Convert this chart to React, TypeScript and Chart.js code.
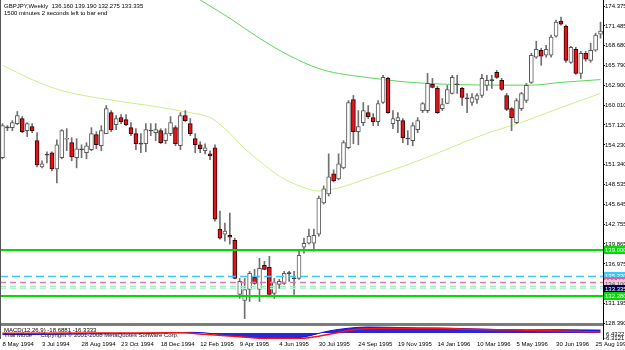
import React, { useEffect, useRef } from 'react';
import { Chart, registerables } from 'chart.js';

Chart.register(...registerables);

// ---------- data ----------
const START_YEAR = 1994;
const START_MONTH = 4; // May (0-based)
const START_DAY = 8;
const MONTHS = ['Jan', 'Feb', 'Mar', 'Apr', 'May', 'Jun', 'Jul', 'Aug', 'Sep', 'Oct', 'Nov', 'Dec'];

const OPEN = [152.36, 156.75, 156.73, 157.32, 158.05, 156.30, 156.88, 154.84, 151.05, 152.85, 153.09, 150.76, 152.36, 155.05, 154.55, 152.36, 153.50, 153.09, 153.53, 155.71, 154.11, 155.86, 158.92, 157.17, 158.19, 157.90, 156.73, 155.86, 154.45, 154.40, 156.25, 156.00, 156.30, 154.84, 155.86, 156.73, 154.11, 158.48, 157.32, 155.13, 154.25, 153.38, 152.94, 153.82, 142.01, 141.28, 141.13, 140.40, 132.53, 131.66, 133.26, 135.01, 133.26, 136.76, 136.47, 132.67, 133.99, 134.14, 135.55, 134.90, 134.86, 139.38, 139.97, 139.97, 141.28, 145.80, 147.11, 150.03, 149.30, 150.90, 153.82, 160.82, 156.15, 157.46, 158.92, 158.19, 157.61, 160.38, 163.88, 157.32, 157.75, 157.75, 155.18, 154.84, 156.44, 159.21, 159.21, 163.00, 162.42, 159.50, 160.23, 161.69, 163.05, 162.42, 161.00, 160.38, 160.82, 161.40, 162.86, 163.62, 164.75, 163.59, 161.40, 159.50, 157.46, 159.50, 160.67, 163.29, 166.94, 167.96, 167.23, 167.23, 170.00, 172.19, 171.46, 166.21, 168.11, 164.61, 167.52, 166.50, 167.96, 170.29];
const HIGH = [157.32, 157.02, 157.75, 159.07, 158.34, 157.46, 157.32, 156.00, 151.92, 153.23, 153.23, 154.98, 156.44, 156.59, 155.28, 155.13, 154.25, 154.55, 156.73, 156.15, 157.02, 159.94, 159.21, 158.48, 158.63, 158.63, 157.46, 156.59, 155.86, 157.32, 157.32, 157.32, 156.59, 156.59, 158.34, 157.02, 158.92, 159.21, 158.05, 155.86, 154.69, 154.40, 153.38, 154.25, 144.63, 142.88, 144.34, 140.70, 134.86, 134.86, 135.88, 136.18, 137.78, 137.34, 138.07, 134.86, 134.72, 135.88, 135.88, 135.88, 138.80, 140.70, 142.01, 142.01, 146.82, 148.28, 152.94, 150.61, 152.94, 154.84, 160.67, 161.40, 159.21, 160.38, 159.94, 158.78, 160.67, 164.32, 164.02, 159.21, 158.92, 158.05, 156.30, 157.46, 158.19, 160.38, 164.61, 163.88, 162.71, 160.96, 162.86, 164.32, 164.32, 162.57, 161.69, 161.69, 161.69, 164.46, 164.32, 164.32, 165.04, 163.88, 161.69, 159.65, 160.96, 161.84, 163.15, 167.52, 169.27, 168.25, 168.69, 170.15, 172.33, 172.77, 171.61, 168.54, 168.40, 167.81, 167.81, 168.98, 170.44, 172.04];
const LOW = [152.21, 156.30, 156.30, 157.17, 156.00, 155.42, 156.00, 151.05, 150.90, 151.63, 150.46, 148.72, 152.21, 153.38, 151.92, 150.90, 152.36, 152.21, 153.38, 153.67, 153.38, 155.86, 156.15, 156.44, 157.32, 157.02, 155.57, 153.53, 153.09, 153.23, 155.57, 154.84, 154.40, 154.40, 155.57, 154.11, 153.53, 157.61, 155.57, 153.09, 153.09, 152.94, 152.07, 143.17, 140.55, 140.26, 139.82, 134.80, 131.95, 129.03, 131.51, 133.99, 131.51, 136.10, 132.24, 131.95, 133.41, 133.99, 134.43, 132.53, 134.72, 138.51, 139.82, 138.80, 140.99, 145.65, 146.82, 148.86, 149.15, 150.76, 153.67, 154.40, 154.25, 157.02, 158.05, 157.02, 157.02, 160.23, 158.78, 156.59, 156.00, 154.55, 154.25, 154.11, 156.00, 158.92, 158.92, 162.50, 158.78, 159.21, 160.20, 161.60, 161.69, 159.94, 158.92, 159.94, 160.23, 161.11, 162.13, 162.42, 163.88, 162.13, 159.21, 156.30, 157.32, 159.21, 160.38, 163.15, 166.79, 165.77, 166.94, 166.94, 169.86, 171.61, 166.21, 166.06, 164.46, 163.88, 166.36, 166.21, 167.81, 169.71];
const CLOSE = [157.02, 156.70, 157.46, 158.48, 156.15, 157.32, 156.30, 151.34, 151.48, 152.75, 150.76, 154.25, 156.30, 155.20, 152.50, 153.67, 153.55, 154.11, 155.86, 154.25, 156.30, 159.50, 156.44, 158.05, 157.61, 157.17, 155.86, 154.40, 154.35, 156.44, 156.35, 156.44, 154.55, 155.86, 157.46, 154.40, 158.48, 157.75, 155.86, 154.25, 153.67, 153.82, 152.65, 143.47, 140.70, 141.72, 140.84, 134.86, 134.43, 133.26, 135.59, 134.14, 136.32, 136.18, 132.53, 134.28, 134.43, 135.59, 135.62, 134.82, 138.22, 139.97, 140.99, 141.13, 146.53, 147.84, 149.59, 149.01, 151.48, 154.55, 160.38, 156.15, 156.88, 159.21, 158.34, 157.61, 160.23, 164.02, 158.92, 158.05, 158.19, 155.28, 155.08, 157.02, 157.75, 160.23, 163.15, 162.57, 158.92, 160.09, 162.27, 164.02, 162.95, 161.11, 160.92, 161.11, 161.40, 163.88, 163.59, 163.55, 164.02, 162.27, 159.36, 158.19, 160.67, 161.69, 162.86, 167.23, 168.11, 167.09, 168.11, 169.86, 172.04, 171.75, 166.50, 168.40, 164.61, 167.52, 166.65, 167.96, 170.15, 170.73];

// moving averages (sampled at bar indices)
const FAST_MA_BARS = [0, 6, 12, 20, 30, 38, 42, 45, 49, 52, 56, 60, 64, 68, 74, 84, 98, 105, 113, 121];
const FAST_MA_VALUES = [165.8, 163.7, 162.1, 160.96, 159.9, 158.9, 158.2, 156.6, 153.7, 151.9, 149.7, 148.3, 147.55, 148.0, 149.4, 151.9, 155.9, 157.5, 159.65, 161.7];
const SLOW_MA_BARS = [34, 40, 46, 52, 58, 64, 68, 74, 81, 91, 101, 107, 113, 121];
const SLOW_MA_VALUES = [177.9, 175.25, 172.6, 169.7, 167.2, 165.3, 164.6, 164.0, 163.4, 163.0, 162.9, 162.9, 163.3, 163.7];

// MACD pane
const MACD_BARS = [0, 10, 20, 30, 38, 41, 44, 48, 52, 56, 59, 62, 64, 66, 70, 74, 78, 84, 90, 94, 100, 106, 112, 117, 121];
const MACD_VALUES = [-1.8, -1.5, -1.0, -0.6, 0.6, 0.0, -1.8, -3.8, -5.4, -6.2, -5.8, -3.2, -0.5, 2.0, 5.0, 6.3, 6.0, 5.3, 5.0, 4.5, 3.6, 3.2, 3.4, 3.2, 3.0];
const SIGNAL_BARS = [0, 20, 36, 41, 48, 54, 60, 64, 68, 72, 80, 88, 94, 104, 113, 121];
const SIGNAL_VALUES = [-0.3, -0.2, 0.2, -1.5, -4.0, -6.0, -6.0, -3.5, 0.5, 4.0, 5.0, 5.0, 4.0, 3.0, 2.0, 1.0];

// price axis ticks
const Y_TICKS = [174.375, 171.485, 168.68, 165.79, 162.9, 160.01, 157.12, 154.23, 151.34, 148.535, 145.645, 142.755, 139.865, 136.975, 131.195, 128.39];

// horizontal levels
const LEVEL_VALUES = [139.0, 135.22, 134.33, 133.75, 133.46, 132.28];
const LEVEL_COLORS = ['#00dc00', '#3cc8ff', '#e07aa0', '#9fe8c0', '#b8f0d0', '#00dc00'];
const LEVEL_DASHES = [[], [8, 4], [6, 4], [6, 4], [6, 4], []];
const LEVEL_WIDTHS = [2, 1.5, 1.5, 1.5, 1.5, 2];

// right-side price boxes
const BOX_VALUES = [139.0, 135.22, 134.53, 134.1, 133.335, 132.28];
const BOX_TEXTS = ['139.000', '135.220', '134.530', '134.100', '133.335', '132.280'];
const BOX_COLORS = ['#00dc00', '#3cc8ff', '#e0609a', '#f0c8d8', '#000050', '#00dc00'];

const HEADER_LINES = ['GBPJPY,Weekly  136.160 139.190 132.275 133.335', '1500 minutes 2 seconds left to bar end'];
const MACD_TEXTS = ['MACD(12,26,9) -18.6881 -16.3333', 'Trial Mode     Copyright \u00a9 2001-2008 MetaQuotes Software Corp.'];
const MACD_AXIS_LABELS = ['6.4322', '-6.3121'];

const CATEGORIES: string[] = OPEN.map((_, i) => {
  const d = new Date(Date.UTC(START_YEAR, START_MONTH, START_DAY + i * 7));
  return `${d.getUTCDate()} ${MONTHS[d.getUTCMonth()]} ${d.getUTCFullYear()}`;
});

const FONT = 'Liberation Sans';

const overlayPlugin = {
  id: 'mtOverlay',
  afterDatasetsDraw(chart: any) {
    const { ctx, chartArea, scales } = chart;
    const y = scales.y;
    const y2 = scales.y2;
    ctx.save();
    ctx.beginPath();
    ctx.rect(chartArea.left, y.top, chartArea.right - chartArea.left, y.bottom - y.top);
    ctx.clip();
    LEVEL_VALUES.forEach((v, i) => {
      const py = Math.round(y.getPixelForValue(v)) + (LEVEL_WIDTHS[i] === 2 ? 0 : 0.5);
      ctx.strokeStyle = LEVEL_COLORS[i];
      ctx.lineWidth = LEVEL_WIDTHS[i];
      ctx.setLineDash(LEVEL_DASHES[i]);
      ctx.beginPath();
      ctx.moveTo(chartArea.left, py);
      ctx.lineTo(chartArea.right, py);
      ctx.stroke();
    });
    ctx.restore();

    ctx.save();
    // separator between panes
    ctx.fillStyle = '#7c7c7c';
    ctx.fillRect(chartArea.left, y.bottom - 1, chartArea.right - chartArea.left, 3);
    // left frame
    ctx.fillStyle = '#555';
    ctx.fillRect(chartArea.left, chartArea.top, 1, chartArea.bottom - chartArea.top);
    // header texts
    ctx.fillStyle = '#000';
    ctx.font = `6px "${FONT}"`;
    ctx.textBaseline = 'middle';
    ctx.textAlign = 'left';
    ctx.fillText(HEADER_LINES[0], chartArea.left + 4, y.top + 6);
    ctx.fillText(HEADER_LINES[1], chartArea.left + 4, y.top + 13);
    // MACD texts
    ctx.fillText(MACD_TEXTS[0], chartArea.left + 4, y2.top + 6);
    ctx.fillStyle = '#222';
    ctx.fillText(MACD_TEXTS[1], chartArea.left + 4, y2.top + 11.5);
    ctx.restore();
  },
  afterDraw(chart: any) {
    const { ctx, chartArea, scales } = chart;
    const y = scales.y;
    const y2 = scales.y2;
    ctx.save();
    ctx.font = `6px "${FONT}"`;
    ctx.textBaseline = 'middle';
    ctx.textAlign = 'left';
    BOX_VALUES.forEach((v, i) => {
      const py = Math.round(y.getPixelForValue(v));
      ctx.fillStyle = BOX_COLORS[i];
      ctx.fillRect(chartArea.right + 1, py - 4, 30, 8);
      ctx.fillStyle = i === 3 ? '#555' : '#fff';
      ctx.fillText(BOX_TEXTS[i], chartArea.right + 2, py + 0.5);
    });
    ctx.fillStyle = '#000';
    ctx.fillText(MACD_AXIS_LABELS[0], chartArea.right + 3, y2.bottom - 5);
    ctx.fillText(MACD_AXIS_LABELS[1], chartArea.right + 1, y2.bottom - 1);
    ctx.restore();
  },
};

export default function App() {
  const ref = useRef<HTMLCanvasElement | null>(null);

  useEffect(() => {
    document.body.style.margin = '0';
    const canvas = ref.current;
    if (!canvas) return;

    const isDoji = OPEN.map((o, i) => Math.abs(o - CLOSE[i]) < 0.12);
    const bodyFill = OPEN.map((o, i) => (isDoji[i] ? '#404040' : CLOSE[i] >= o ? '#ffffff' : '#e0141c'));
    const bodyBorder = OPEN.map((o, i) => (isDoji[i] ? '#404040' : CLOSE[i] >= o ? '#5a5a5a' : '#3a0000'));

    const chart = new Chart(canvas, {
      type: 'bar',
      data: {
        labels: CATEGORIES,
        datasets: [
          {
            type: 'line',
            label: 'slow MA',
            data: SLOW_MA_BARS.map((k, i) => ({ x: CATEGORIES[k], y: SLOW_MA_VALUES[i] })),
            borderColor: '#5cd65c',
            borderWidth: 1,
            pointRadius: 0,
            cubicInterpolationMode: 'monotone',
            yAxisID: 'y',
            order: 3,
          } as any,
          {
            type: 'line',
            label: 'fast MA',
            data: FAST_MA_BARS.map((k, i) => ({ x: CATEGORIES[k], y: FAST_MA_VALUES[i] })),
            borderColor: '#cdee8a',
            borderWidth: 1,
            pointRadius: 0,
            cubicInterpolationMode: 'monotone',
            yAxisID: 'y',
            order: 3,
          } as any,
          {
            label: 'wicks',
            data: LOW.map((l, i) => [l, HIGH[i]]),
            backgroundColor: '#707070',
            barThickness: 1,
            grouped: false,
            yAxisID: 'y',
            order: 1,
          } as any,
          {
            label: 'bodies',
            data: OPEN.map((o, i) => [Math.min(o, CLOSE[i]), Math.max(o, CLOSE[i])]),
            backgroundColor: bodyFill,
            borderColor: bodyBorder,
            borderWidth: 1,
            borderSkipped: false,
            barThickness: 4,
            minBarLength: 1,
            grouped: false,
            yAxisID: 'y',
            order: 0,
          } as any,
          {
            type: 'line',
            label: 'MACD',
            data: MACD_BARS.map((k, i) => ({ x: CATEGORIES[k], y: MACD_VALUES[i] })),
            borderColor: '#1010d8',
            borderWidth: 1,
            backgroundColor: 'rgba(16,16,216,0.9)',
            fill: { target: { value: 0 } },
            pointRadius: 0,
            cubicInterpolationMode: 'monotone',
            yAxisID: 'y2',
            order: 2,
          } as any,
          {
            type: 'line',
            label: 'Signal',
            data: SIGNAL_BARS.map((k, i) => ({ x: CATEGORIES[k], y: SIGNAL_VALUES[i] })),
            borderColor: '#ff1010',
            borderWidth: 1.5,
            pointRadius: 0,
            cubicInterpolationMode: 'monotone',
            yAxisID: 'y2',
            order: 1,
          } as any,
        ],
      },
      options: {
        responsive: false,
        animation: false,
        events: [],
        layout: { padding: 0, autoPadding: false } as any,
        plugins: { legend: { display: false }, tooltip: { enabled: false } },
        scales: {
          x: {
            type: 'category',
            offset: true,
            grid: { display: false, drawTicks: false },
            border: { display: false },
            ticks: {
              autoSkip: false,
              maxRotation: 0,
              minRotation: 0,
              align: 'start',
              padding: 2,
              color: '#000',
              font: { family: FONT, size: 6 },
              callback: (_v: any, idx: number) => (idx % 8 === 0 ? CATEGORIES[idx] : ''),
            },
            afterFit: (s: any) => {
              s.height = 11;
              s.paddingLeft = 0;
              s.paddingRight = 0;
            },
          },
          y: {
            position: 'right',
            stack: 'panes',
            stackWeight: 324,
            min: 128.25,
            max: 175.25,
            afterBuildTicks: (s: any) => {
              s.ticks = Y_TICKS.map((v) => ({ value: v }));
            },
            grid: { drawOnChartArea: false, drawTicks: true, tickLength: 2, color: '#000' },
            border: { display: true, color: '#000' },
            ticks: {
              padding: 0,
              color: '#000',
              font: { family: FONT, size: 6 },
              callback: (v: any) => Number(v).toFixed(3),
            },
            afterFit: (s: any) => {
              s.width = 22;
              s.paddingTop = 0;
              s.paddingBottom = 0;
            },
          } as any,
          y2: {
            position: 'right',
            stack: 'panes',
            stackWeight: 15,
            min: -6.5,
            max: 9.5,
            grid: { display: false },
            border: { display: true, color: '#000' },
            ticks: { display: false },
            afterFit: (s: any) => {
              s.width = 22;
              s.paddingTop = 0;
              s.paddingBottom = 0;
            },
          } as any,
        },
      },
      plugins: [overlayPlugin],
    } as any);

    return () => chart.destroy();
  }, []);

  return (
    <div style={{ width: 625, height: 350, background: '#fff' }}>
      <canvas ref={ref} width={625} height={350} style={{ display: 'block' }} />
    </div>
  );
}
